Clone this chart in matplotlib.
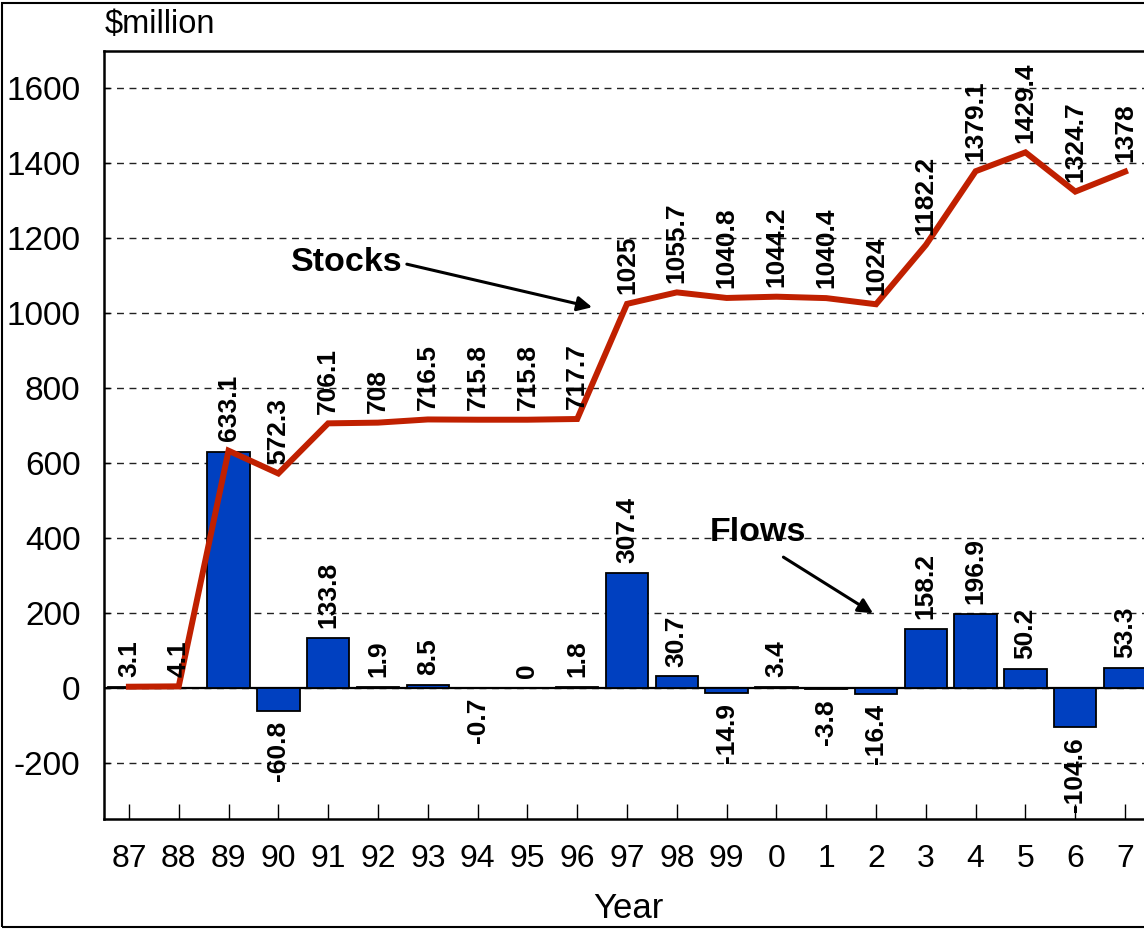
import matplotlib
matplotlib.use("Agg")
import matplotlib.pyplot as plt
from matplotlib.patches import Rectangle

plt.rcParams['font.family'] = ['Liberation Sans', 'DejaVu Sans']

years = ["87", "88", "89", "90", "91", "92", "93", "94", "95", "96", "97",
         "98", "99", "0", "1", "2", "3", "4", "5", "6", "7"]
flows = [3.1, 1.0, 629.0, -60.8, 133.8, 1.9, 8.5, -0.7, 0, 1.8, 307.4,
         30.7, -14.9, 3.4, -3.8, -16.4, 158.2, 196.9, 50.2, -104.6, 53.3]
stocks = [3.1, 4.1, 633.1, 572.3, 706.1, 708, 716.5, 715.8, 715.8, 717.7, 1025,
          1055.7, 1040.8, 1044.2, 1040.4, 1024, 1182.2, 1379.1, 1429.4, 1324.7, 1378]
flow_label_start = 3  # flow labels shown from 1990 onward
y_ticks = [-200, 0, 200, 400, 600, 800, 1000, 1200, 1400, 1600]

W, H = 1144, 930
fig = plt.figure(figsize=(W / 100, H / 100), dpi=100)
fig.patch.set_facecolor('white')

# outer frame
fig.patches.append(Rectangle((2 / W, 3 / H), 1.2, 924 / H, transform=fig.transFigure,
                             fill=False, edgecolor='black', linewidth=1.5))

ax = fig.add_axes([104 / W, (H - 819) / H, 1046 / W, (819 - 51) / H])
x = list(range(len(years)))

ax.set_xlim(-0.5, len(years) - 0.5)
ax.set_ylim(-350, 1700)

for yv in y_ticks:
    ax.axhline(yv, color='#222222', lw=1.0, ls=(0, (5, 4)), zorder=1)
ax.axhline(0, color='black', lw=1.6, zorder=2)

ax.bar(x, flows, width=0.85, color='#0040C0', edgecolor='black', linewidth=1.3, zorder=3)
ax.plot(x, stocks, color='#C02000', lw=4.3, zorder=4, solid_joinstyle='miter')

lab_fs = 19
for i, v in enumerate(stocks):
    ax.annotate(f"{v:g}", (i, v), xytext=(0, 7), textcoords='offset points',
                rotation=90, ha='center', va='bottom', fontsize=lab_fs,
                fontweight='bold', zorder=5)

for i, v in enumerate(flows):
    if i < flow_label_start:
        continue
    if v >= 0:
        ax.annotate(f"{v:g}", (i, v), xytext=(0, 7), textcoords='offset points',
                    rotation=90, ha='center', va='bottom', fontsize=lab_fs,
                    fontweight='bold', zorder=5)
    else:
        ax.annotate(f"{v:g}", (i, v), xytext=(0, -7), textcoords='offset points',
                    rotation=90, ha='center', va='top', fontsize=lab_fs,
                    fontweight='bold', zorder=5)

ax.set_xticks(x)
ax.set_xticklabels(years)
ax.set_yticks(y_ticks)
ax.set_yticklabels([str(t) for t in y_ticks])
ax.tick_params(axis='x', direction='in', length=11, width=1, pad=18, labelsize=23)
ax.tick_params(axis='y', direction='in', length=4, width=1, pad=17, labelsize=24)

for s in ax.spines.values():
    s.set_linewidth(1.8)
    s.set_color('black')

# annotations
ax.text(4.38, 1136, "Stocks", fontsize=24.5, fontweight='bold', ha='center', va='center', zorder=6)
ax.annotate("", xy=(9.3, 1016), xytext=(5.58, 1131),
            arrowprops=dict(arrowstyle='-|>', color='black', lw=2.2, mutation_scale=22,
                            shrinkA=0, shrinkB=0), zorder=6)
ax.text(12.62, 416, "Flows", fontsize=24.5, fontweight='bold', ha='center', va='center', zorder=6)
ax.annotate("", xy=(14.94, 199), xytext=(13.14, 349),
            arrowprops=dict(arrowstyle='-|>', color='black', lw=2.2, mutation_scale=22,
                            shrinkA=0, shrinkB=0), zorder=6)

fig.text(105 / W, 1 - 25 / H, "$million", fontsize=23.5, ha='left', va='center')
fig.text(628 / W, 1 - 908 / H, "Year", fontsize=25, ha='center', va='center')

fig.savefig("out.png", dpi=100)
